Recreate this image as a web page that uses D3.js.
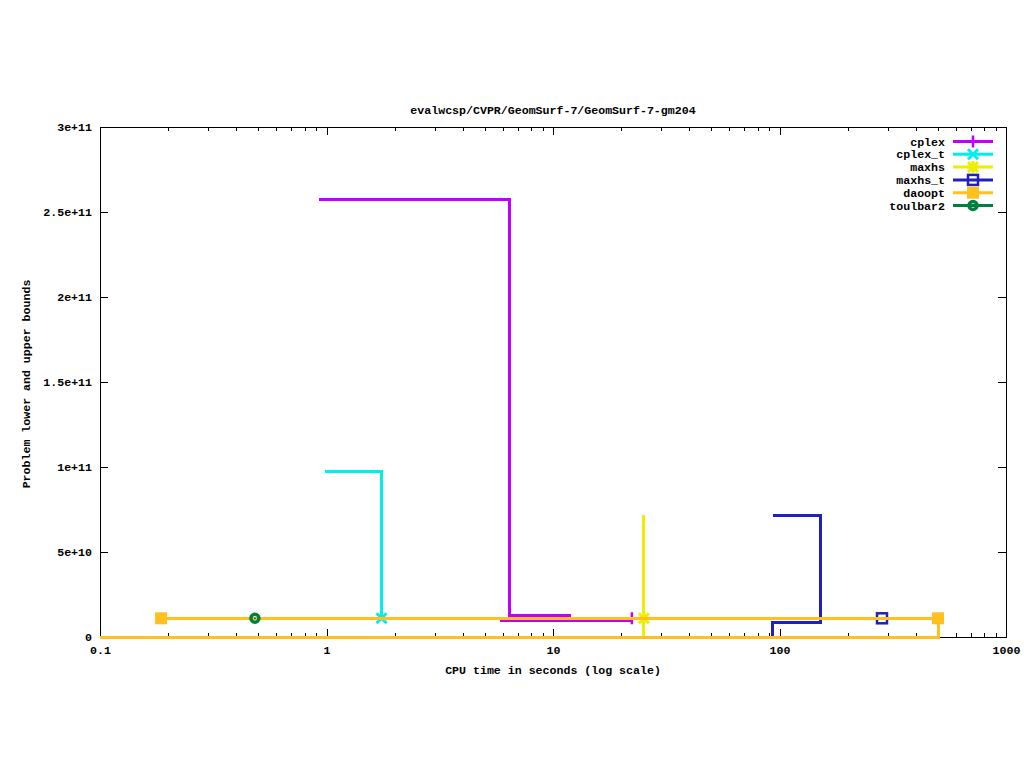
<!DOCTYPE html>
<html><head><meta charset="utf-8">
<script src="https://cdn.jsdelivr.net/npm/d3@7"></script>
<style>
html,body{margin:0;padding:0;background:#fff;}
text{font-family:"Liberation Mono","DejaVu Sans Mono",monospace;font-weight:bold;font-size:11.6px;fill:#000;}
</style></head>
<body><svg id="c" width="1024" height="768"></svg>
<script>
// ---- data ----
const titleText = "evalwcsp/CVPR/GeomSurf-7/GeomSurf-7-gm204";
const xLabelText = "CPU time in seconds (log scale)";
const yLabelText = "Problem lower and upper bounds";
const xTickValues = [0.1, 1, 10, 100, 1000];
const xTickLabels = ["0.1", "1", "10", "100", "1000"];
const yTickValues = [0, 5e10, 1e11, 1.5e11, 2e11, 2.5e11, 3e11];
const yTickLabels = ["0", "5e+10", "1e+11", "1.5e+11", "2e+11", "2.5e+11", "3e+11"];
const solvers = ["cplex", "cplex_t", "maxhs", "maxhs_t", "daoopt", "toulbar2"];

// upper / lower bounds (time, value) — step functions
const cplexUpperT = [0.927, 6.40, 11.97];
const cplexUpperV = [2.576e11, 1.267e10, 1.267e10];
const cplexLowerT = [5.83, 22.3];
const cplexLowerV = [9.6e9, 9.6e9];
const cplexMarkT = [22.3];
const cplexMarkV = [1.10e10];

const cplexTUpperT = [0.985, 1.75];
const cplexTUpperV = [9.72e10, 1.10e10];
const cplexTLowerT = [];
const cplexTLowerV = [];
const cplexTMarkT = [1.75];
const cplexTMarkV = [1.10e10];

const maxhsUpperT = [25.2, 25.2];
const maxhsUpperV = [7.19e10, 1.10e10];
const maxhsLowerT = [25.2, 25.2];
const maxhsLowerV = [0, 1.10e10];
const maxhsMarkT = [25.2];
const maxhsMarkV = [1.10e10];

const maxhsTUpperT = [93.6, 151.7];
const maxhsTUpperV = [7.13e10, 1.10e10];
const maxhsTLowerT = [93.6, 93.6, 151.7];
const maxhsTLowerV = [0, 8.25e9, 1.10e10];
const maxhsTMarkT = [283.5];
const maxhsTMarkV = [1.10e10];

const daooptUpperT = [0.186, 501];
const daooptUpperV = [1.10e10, 1.10e10];
const daooptLowerT = [0.1, 501];
const daooptLowerV = [0, 1.10e10];
const daooptMarkT = [0.186, 501];
const daooptMarkV = [1.10e10, 1.10e10];

const toulbar2UpperT = [];
const toulbar2UpperV = [];
const toulbar2LowerT = [];
const toulbar2LowerV = [];
const toulbar2MarkT = [0.483];
const toulbar2MarkV = [1.10e10];

// ---- styles ----
const colors = ["#c000ff", "#00eeee", "#eeee00", "#2020c0", "#ffc020", "#008040"];
const markerTypes = ["plus", "cross", "star", "openSquare", "filledSquare", "ring"];

const seriesData = [
  [cplexUpperT, cplexUpperV, cplexLowerT, cplexLowerV, cplexMarkT, cplexMarkV],
  [cplexTUpperT, cplexTUpperV, cplexTLowerT, cplexTLowerV, cplexTMarkT, cplexTMarkV],
  [maxhsUpperT, maxhsUpperV, maxhsLowerT, maxhsLowerV, maxhsMarkT, maxhsMarkV],
  [maxhsTUpperT, maxhsTUpperV, maxhsTLowerT, maxhsTLowerV, maxhsTMarkT, maxhsTMarkV],
  [daooptUpperT, daooptUpperV, daooptLowerT, daooptLowerV, daooptMarkT, daooptMarkV],
  [toulbar2UpperT, toulbar2UpperV, toulbar2LowerT, toulbar2LowerV, toulbar2MarkT, toulbar2MarkV]
];

const L = 100, R = 1006, T = 127, B = 637;
const svg = d3.select("#c");
const x = d3.scaleLog().domain([0.1, 1000]).range([L, R]);
const y = d3.scaleLinear().domain([0, 3e11]).range([B, T]);

// minor ticks for log axis
const minorX = [];
for (let d = 0.1; d < 1000; d *= 10) for (let k = 2; k <= 9; k++) minorX.push(+(d * k).toPrecision(3));

function styleAxis(g) {
  g.select(".domain").remove();
  g.selectAll(".tick line").attr("stroke", "#000").attr("stroke-width", 1).attr("shape-rendering", "crispEdges");
}

// bottom axis
svg.append("g").attr("transform", `translate(0,${B})`)
  .call(d3.axisBottom(x).tickValues(xTickValues).tickFormat((d, i) => xTickLabels[i]).tickSize(-8).tickPadding(9))
  .call(styleAxis).selectAll("text").style("font-size", "11.6px").style("font-family", null).attr("fill", "#000");
svg.append("g").attr("transform", `translate(0,${B})`)
  .call(d3.axisBottom(x).tickValues(minorX).tickFormat("").tickSize(-4)).call(styleAxis);
// top mirror
svg.append("g").attr("transform", `translate(0,${T})`)
  .call(d3.axisTop(x).tickValues(xTickValues).tickFormat("").tickSize(-8)).call(styleAxis);
svg.append("g").attr("transform", `translate(0,${T})`)
  .call(d3.axisTop(x).tickValues(minorX).tickFormat("").tickSize(-4)).call(styleAxis);
// left axis
svg.append("g").attr("transform", `translate(${L},0)`)
  .call(d3.axisLeft(y).tickValues(yTickValues).tickFormat((d, i) => yTickLabels[i]).tickSize(-8).tickPadding(8))
  .call(styleAxis).selectAll("text").style("font-size", "11.6px").style("font-family", null).attr("fill", "#000");
// right mirror
svg.append("g").attr("transform", `translate(${R},0)`)
  .call(d3.axisRight(y).tickValues(yTickValues).tickFormat("").tickSize(-8)).call(styleAxis);

// border
svg.append("rect").attr("x", L + 0.5).attr("y", T + 0.5).attr("width", R - L).attr("height", B - T)
  .attr("fill", "none").attr("stroke", "#000").attr("stroke-width", 1).attr("shape-rendering", "crispEdges");

// titles
svg.append("text").attr("x", 553).attr("y", 114).attr("text-anchor", "middle").text(titleText);
svg.append("text").attr("x", 553).attr("y", 674).attr("text-anchor", "middle").text(xLabelText);
svg.append("text").attr("transform", "translate(30,384) rotate(-90)").attr("text-anchor", "middle").text(yLabelText);

const line = d3.line().x(d => x(d[0])).y(d => y(d[1])).curve(d3.curveStepAfter);

function drawMarker(g, type, cx, cy, color) {
  const s = 6;
  if (type === "plus") {
    g.append("path").attr("d", `M${cx - s},${cy}H${cx + s}M${cx},${cy - s}V${cy + s}`).attr("stroke", color).attr("stroke-width", 2.5).attr("fill", "none");
  } else if (type === "cross") {
    g.append("path").attr("d", `M${cx - 5},${cy - 5}L${cx + 5},${cy + 5}M${cx - 5},${cy + 5}L${cx + 5},${cy - 5}`).attr("stroke", color).attr("stroke-width", 3).attr("fill", "none");
  } else if (type === "star") {
    g.append("path").attr("d", `M${cx - 5},${cy - 5}L${cx + 5},${cy + 5}M${cx - 5},${cy + 5}L${cx + 5},${cy - 5}M${cx - s},${cy}H${cx + s}M${cx},${cy - s}V${cy + s}`).attr("stroke", color).attr("stroke-width", 3).attr("fill", "none");
  } else if (type === "openSquare") {
    g.append("rect").attr("x", cx - 5).attr("y", cy - 5).attr("width", 10).attr("height", 10).attr("stroke", color).attr("stroke-width", 2.5).attr("fill", "none");
  } else if (type === "filledSquare") {
    g.append("rect").attr("x", cx - 6).attr("y", cy - 6).attr("width", 12).attr("height", 12).attr("fill", color);
  } else if (type === "ring") {
    g.append("circle").attr("cx", cx).attr("cy", cy).attr("r", 4).attr("stroke", color).attr("stroke-width", 3.5).attr("fill", "none");
    g.append("circle").attr("cx", cx).attr("cy", cy).attr("r", 1).attr("fill", color);
  }
}

const plot = svg.append("g");
seriesData.forEach((s, i) => {
  const [ut, uv, lt, lv, mt, mv] = s;
  const g = plot.append("g");
  const upper = ut.map((t, k) => [t, uv[k]]);
  const lower = lt.map((t, k) => [t, lv[k]]);
  [lower, upper].forEach(pts => {
    if (pts.length > 1) g.append("path").attr("d", line(pts)).attr("fill", "none").attr("stroke", colors[i]).attr("stroke-width", 3).attr("shape-rendering", "crispEdges");
  });
  mt.forEach((t, k) => drawMarker(g, markerTypes[i], x(t), y(mv[k]), colors[i]));
});

// legend
const lg = svg.append("g");
solvers.forEach((name, i) => {
  const ry = 141.5 + i * 12.8;
  lg.append("text").attr("x", 945).attr("y", ry + 4).attr("text-anchor", "end").text(name);
  lg.append("line").attr("x1", 953).attr("x2", 993).attr("y1", ry).attr("y2", ry).attr("stroke", colors[i]).attr("stroke-width", 3);
  drawMarker(lg, markerTypes[i], 973, ry, colors[i]);
});
</script></body></html>
